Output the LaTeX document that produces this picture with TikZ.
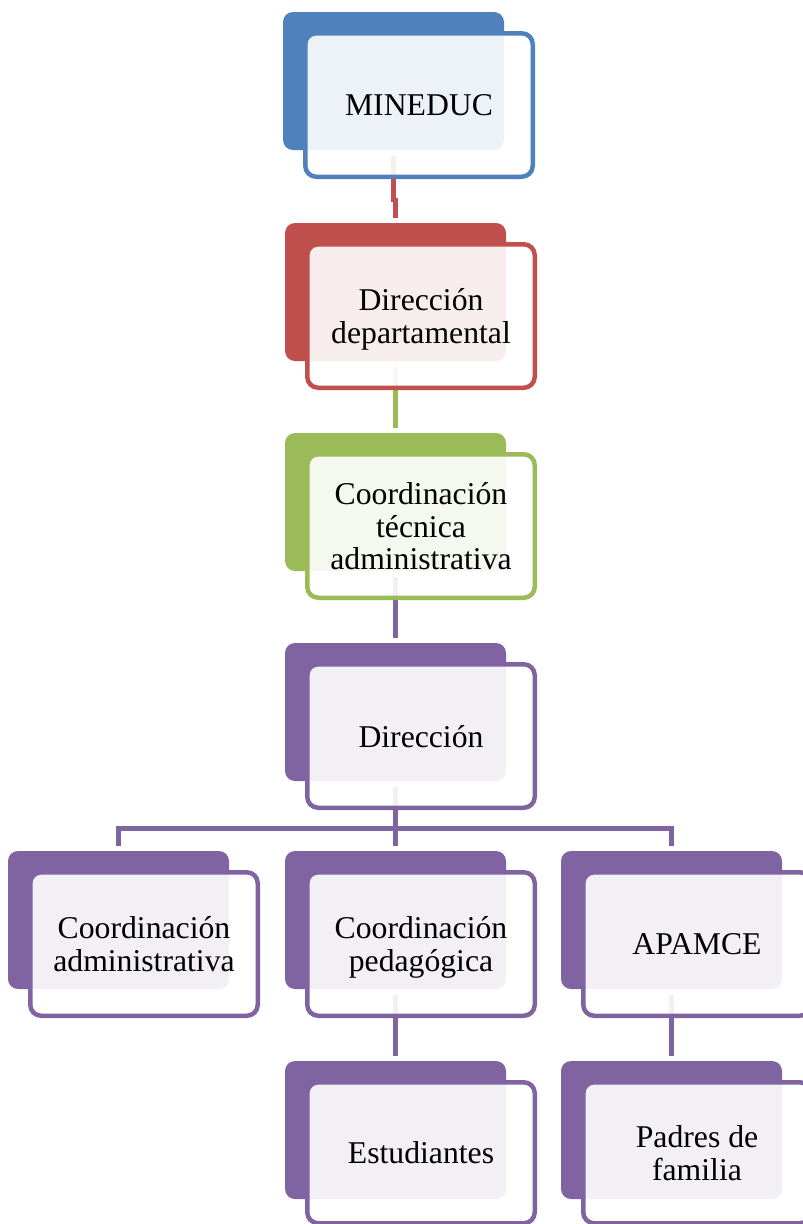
\documentclass[tikz,border=0pt]{standalone}
\usepackage{fontspec}
\setmainfont{Liberation Serif}
\usetikzlibrary{calc}
\definecolor{cblue}{HTML}{4F81BD}
\definecolor{cred}{HTML}{C0504D}
\definecolor{cgreen}{HTML}{9BBB59}
\definecolor{cpurple}{HTML}{8064A2}
\pgfdeclarelayer{bg}
\pgfsetlayers{bg,main}
\newcommand\orgnode[6][]{%
  \node[backbox=#5] (#2b) at (#3+110.5, #4+69) {};
  \node[frontbox=#5, #1] (#2) at (#3+136, #4+93) {#6};
}
\begin{document}
\begin{tikzpicture}[x=1pt,y=-1pt,
  backbox/.style={fill=#1, rounded corners=10pt, minimum width=221pt, minimum height=138pt, inner sep=0pt, outer sep=0pt},
  frontbox/.style={draw=#1, line width=4.5pt, fill=white, fill opacity=0.9, text opacity=1,
    rounded corners=11pt, minimum width=227.5pt, minimum height=143.5pt, inner sep=0pt, outer sep=0pt,
    align=center, text depth=0pt, font=\fontsize{31.7}{32.7}\selectfont},
  lastrow/.style={minimum height=141pt, yshift=1.25pt},
  conn/.style={draw=#1, line width=4.5pt, line join=miter}]
\useasboundingbox (0,0) rectangle (803,1224);
\clip (0,0) rectangle (803,1224);
\orgnode{m}{283}{12}{cblue}{MINEDUC}
\orgnode{dd}{285}{223}{cred}{Dirección\\departamental}
\orgnode{ct}{285}{433}{cgreen}{Coordinación\\técnica\\administrativa}
\orgnode{di}{285}{643}{cpurple}{Dirección}
\orgnode{ca}{8}{851}{cpurple}{Coordinación\\administrativa}
\orgnode{cp}{285}{851}{cpurple}{Coordinación\\pedagógica}
\orgnode{ap}{561}{851}{cpurple}{APAMCE}
\orgnode[lastrow]{es}{285}{1061}{cpurple}{Estudiantes}
\orgnode[lastrow]{pf}{561}{1061}{cpurple}{Padres de\\familia}
\coordinate (kink) at (0,200);
\coordinate (bus) at (0,828.3);
\begin{pgfonlayer}{bg}
\draw[conn=cred] ([yshift=-6pt]mb.south) -- (mb.south |- kink) -- (ddb.north |- kink) -- ([yshift=5pt]ddb.north);
\draw[conn=cgreen] ([yshift=-6pt]ddb.south) -- ([yshift=5pt]ctb.north);
\draw[conn=cpurple] ([yshift=-6pt]ctb.south) -- ([yshift=5pt]dib.north);
\draw[conn=cpurple] ([yshift=-6pt]dib.south) -- ([yshift=5pt]cpb.north);
\draw[conn=cpurple] ([yshift=5pt]cab.north) -- (cab.north |- bus) -- (apb.north |- bus) -- ([yshift=5pt]apb.north);
\draw[conn=cpurple] ([yshift=-6pt]cpb.south) -- ([yshift=5pt]esb.north);
\draw[conn=cpurple] ([yshift=-6pt]apb.south) -- ([yshift=5pt]pfb.north);
\end{pgfonlayer}
\end{tikzpicture}
\end{document}
